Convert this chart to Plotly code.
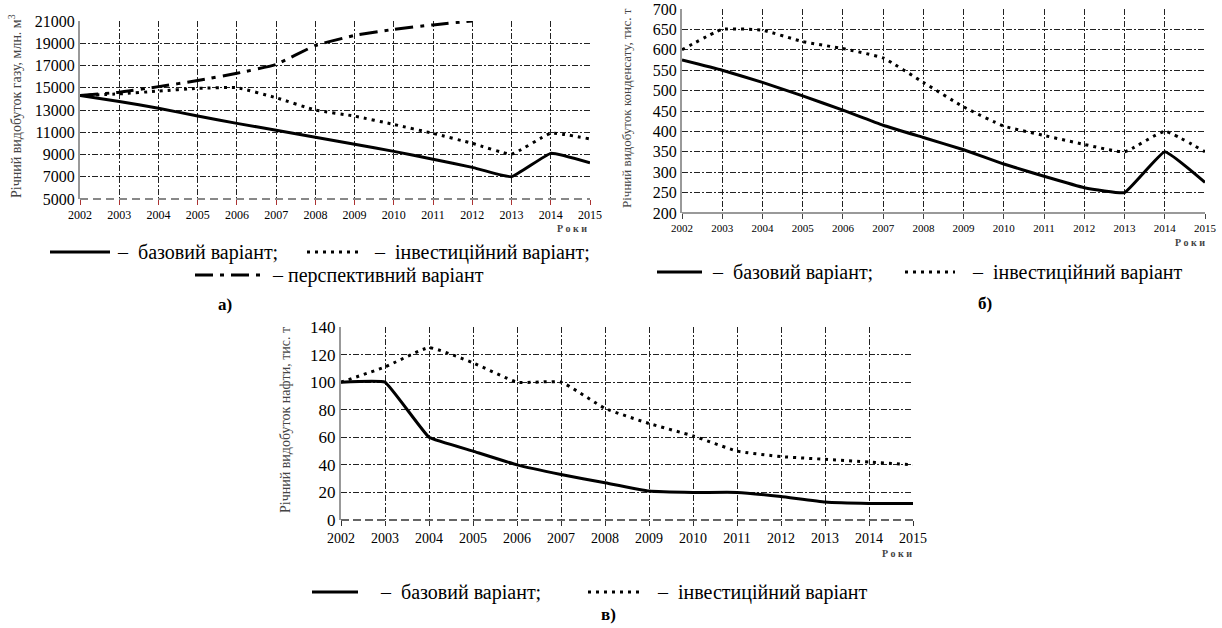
import plotly.graph_objects as go

years = list(range(2002, 2016))

# a) gas, mln m3
gas_base = [14300, 13760, 13160, 12460, 11800, 11180, 10550, 9920, 9280, 8580, 7840, 7000, 9100, 8250]
gas_invest = [14300, 14450, 14700, 14950, 15000, 14100, 13000, 12450, 11700, 10900, 10000, 9050, 10900, 10400]
gas_persp = [14300, 14600, 15100, 15650, 16300, 17100, 18800, 19700, 20250, 20650, 21000, None, None, None]

# b) condensate, thousand t
cond_base = [575, 550, 520, 487, 452, 415, 385, 355, 320, 290, 262, 250, 350, 275]
cond_invest = [600, 650, 648, 620, 603, 580, 520, 460, 413, 390, 368, 350, 400, 350]

# c) oil, thousand t
oil_base = [100, 100, 60, 50, 40, 33, 27, 21, 20, 20, 17, 13, 12, 12]
oil_invest = [100, 111, 125, 114, 100, 100, 81, 70, 61, 50, 46, 44, 42, 40]

W, H = 1222, 628
SERIF = "Liberation Serif, Times New Roman, DejaVu Serif, serif"
DOT = "3px,5px"
DASHDOT = "18px,7px,4px,7px"
GRIDDASH = "6px,2px,2px,2px"


def px(x):
    return x / W


def py(y):
    return 1 - y / H


fig = go.Figure()


def add_line(x, y, xa, ya, dash, width=3, name="", smoothing=0.4):
    fig.add_trace(go.Scatter(
        x=x, y=y, xaxis=xa, yaxis=ya, mode="lines", name=name,
        line=dict(color="black", width=width, dash=dash, shape="spline", smoothing=smoothing),
        connectgaps=False, showlegend=False, hoverinfo="skip"))


add_line(years, gas_base, "x", "y", "solid", name="базовий варіант", smoothing=0.3)
add_line(years, gas_invest, "x", "y", DOT, name="інвестиційний варіант")
add_line(years, gas_persp, "x", "y", DASHDOT, name="перспективний варіант")
add_line(years, cond_base, "x2", "y2", "solid", name="базовий варіант", smoothing=0.3)
add_line(years, cond_invest, "x2", "y2", DOT, name="інвестиційний варіант")
add_line(years, oil_base, "x3", "y3", "solid", name="базовий варіант", smoothing=0.25)
add_line(years, oil_invest, "x3", "y3", DOT, name="інвестиційний варіант")


def xax(domain, anchor, tickcolor, size):
    return dict(domain=domain, anchor=anchor, range=[2002, 2015], tick0=2002, dtick=1,
                showgrid=True, gridcolor="#222", gridwidth=1, griddash=GRIDDASH,
                zeroline=False, showline=False, ticks="outside", ticklen=5,
                tickcolor=tickcolor, tickwidth=1, tickformat="d", ticklabeloverflow="allow",
                tickfont=dict(family=SERIF, size=size, color="black"), automargin=False)


def yax(domain, anchor, rng, dtick, size):
    return dict(domain=domain, anchor=anchor, range=rng, tick0=rng[0], dtick=dtick,
                showgrid=True, gridcolor="#222", gridwidth=1, griddash=GRIDDASH,
                zeroline=False, showline=True, linecolor="#999", linewidth=2, ticks="",
                tickformat="d", ticklabeloverflow="allow",
                tickfont=dict(family=SERIF, size=size, color="black"), automargin=False)


fig.update_layout(
    width=W, height=H, margin=dict(l=0, r=0, t=0, b=0),
    paper_bgcolor="white", plot_bgcolor="white", template="none",
    showlegend=False,
    font=dict(family=SERIF),
    xaxis=xax([px(80), px(590)], "y", "#a33", 12),
    yaxis=yax([py(199), py(21)], "x", [5000, 21000], 2000, 16),
    xaxis2=xax([px(682), px(1205)], "y2", "#444", 11),
    yaxis2=yax([py(213), py(9)], "x2", [200, 700], 50, 16),
    xaxis3=xax([px(341), px(913)], "y3", "#333", 14),
    yaxis3=yax([py(520), py(327)], "x3", [0, 140], 20, 17),
)

shapes = []
# bottom axis lines
shapes.append(dict(type="line", xref="x domain", yref="y domain", x0=0, x1=1, y0=0, y1=0,
                   line=dict(color="#888", width=2, dash="8px,5px")))
shapes.append(dict(type="line", xref="x2 domain", yref="y2 domain", x0=0, x1=1, y0=0, y1=0,
                   line=dict(color="#999", width=2)))
shapes.append(dict(type="line", xref="x3 domain", yref="y3 domain", x0=0, x1=1, y0=0, y1=0,
                   line=dict(color="#333", width=1.5, dash="8px,4px")))

annotations = []


def ann(text, x, y, size=20, xanchor="left", angle=0, color="black", bold=False):
    annotations.append(dict(text=("<b>%s</b>" % text) if bold else text,
                            x=px(x), y=py(y), xref="paper", yref="paper",
                            xanchor=xanchor, yanchor="middle", textangle=angle,
                            showarrow=False, font=dict(family=SERIF, size=size, color=color)))


def leg_sample(x0, x1, y, dash):
    shapes.append(dict(type="line", xref="paper", yref="paper", x0=px(x0), x1=px(x1),
                       y0=py(y), y1=py(y), line=dict(color="black", width=3, dash=dash)))


# y-axis titles
ann("Річний видобуток газу, млн. м<sup>3</sup>", 15, 106, size=14, xanchor="center", angle=-90, color="#444")
ann("Річний видобуток конденсату, тис. т", 627, 108, size=13, xanchor="center", angle=-90, color="#444")
ann("Річний видобуток нафти, тис. т", 285, 420, size=14, xanchor="center", angle=-90, color="#444")

# "Роки"
ann("<b>Р о к и</b>", 572, 229, size=10, xanchor="center", color="#444")
ann("<b>Р о к и</b>", 1190, 242, size=10, xanchor="center", color="#444")
ann("<b>Р о к и</b>", 897, 553, size=10, xanchor="center", color="#444")

# legend a)
leg_sample(50, 110, 252, "solid")
ann("–  базовий варіант;", 115, 252)
leg_sample(307, 360, 252, DOT)
ann("–  інвестиційний варіант;", 372, 252)
leg_sample(195, 265, 275, DASHDOT)
ann("– перспективний варіант", 270, 275)
ann("а)", 225, 305, size=17, xanchor="center", bold=True)

# legend b)
leg_sample(657, 702, 272, "solid")
ann("–  базовий варіант;", 710, 272)
leg_sample(905, 955, 272, DOT)
ann("–  інвестиційний варіант", 970, 272)
ann("б)", 985, 303, size=17, xanchor="center", bold=True)

# legend c)
leg_sample(312, 358, 592, "solid")
ann("–  базовий варіант;", 378, 592)
leg_sample(588, 640, 592, DOT)
ann("–  інвестиційний варіант", 655, 592)
ann("в)", 608, 614, size=17, xanchor="center", bold=True)

fig.update_layout(shapes=shapes, annotations=annotations)
fig.write_html("out.html", config={"displayModeBar": False},
               post_script="document.body.style.margin='0';document.body.style.overflow='hidden';")
